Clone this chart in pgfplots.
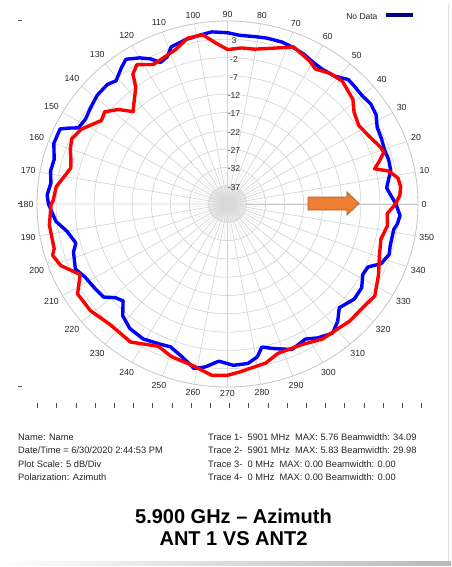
\documentclass[border=0pt]{standalone}
\usepackage{pgfplots}
\pgfplotsset{compat=1.18}
\usepgfplotslibrary{polar}
\usepackage{pgfplotstable}
\usepackage{fontspec}
\setmainfont{Liberation Sans}

\definecolor{arrowfill}{HTML}{ED7D31}
\definecolor{arrowedge}{HTML}{B0622C}
\definecolor{nodata}{HTML}{000080}

% trace 1 (blue): angle in degrees, level in dB
\pgfplotstableread{
ang db
0 2.2
3 1.0
6 0.0
9 0.8
12 1.8
16 2.0
20 1.8
24 2.2
28 2.5
32 4.0
36 4.5
40 4.1
44 4.3
47 4.5
51 2.9
56 2.4
60 2.8
64 3.6
68 4.1
72 4.5
77 4.5
81 4.3
86 4.2
90 4.8
95 5.2
99 4.7
104 4.2
109 3.4
111.5 1.2
114.5 0.5
117 2.5
120 4.1
124 5.7
127 4.4
131 2.6
134 3.4
139 3.3
144 2.5
148 1.9
152 2.3
153.5 4.5
155 6.5
160 6.5
165 5.1
169 5.3
173 4.7
177 5.4
180 5.0
186 3.3
190 0.8
195 -0.8
198 0.5
204 1.7
208 0.4
213 -0.2
218 -0.7
221 -3.0
224 -3.9
228 -0.9
233 0.6
239 1.0
245 0.2
249 -0.2
254 1.4
259 3.8
262.5 2.9
267 1.0
272 2.1
277 1.9
280.6 0.5
283 -1.9
287 -0.7
293 1.2
299 0.2
303 1.6
308 2.8
312 1.2
316 -1.2
322 0.2
327 0.0
331.5 -1.6
335 -1.3
338 1.5
342 2.6
345 2.2
351 2.2
353 2.9
356 3.4
360 2.2
}\traceone

% trace 2 (red)
\pgfplotstableread{
ang db
0 2.1
3 3.3
6 3.7
9 3.3
12 1.3
14 -2.2
16.3 -0.5
19 1.4
21 1.1
27 -0.6
32 -1.4
37 -0.4
41 1.6
48 3.1
53 2.7
58 1.5
61 2.6
68 4.3
74 2.3
80.5 0.9
85 0.8
90 0.2
94 2.1
98 4.7
103 4.5
108 2.3
117 0.8
122 2.9
125 1.3
127 -2.0
134.5 -6.6
138 -3.4
142 -1.1
145.4 -1.8
152 1.5
156.4 2.6
160 1.9
163 1.0
166.5 0.3
169 1.1
174 3.2
179 3.8
180 4.3
187 5.1
195 5.1
197 6.0
201 4.9
206.5 1.2
212 4.4
219 4.3
227 3.1
236 3.5
245 0.9
250.5 2.2
258 3.0
265 5.0
270 4.8
274 4.0
283 2.6
288 0.9
297 1.1
304 2.5
310 2.7
315 3.3
321 3.4
327 4.1
334 2.1
340.5 0.3
346.5 -0.6
352 0.4
356.4 0.0
360 2.1
}\tracetwo

\begin{document}
\begin{tikzpicture}
\useasboundingbox (0,0) rectangle (451pt,-567pt);
\fill[white] (0,0) rectangle (451pt,-567pt);
\shade[left color=white, right color=gray!55] (0pt,-561pt) rectangle (451pt,-565pt);
\draw[gray!25, line width=0.8pt] (448pt,-4pt) -- (448pt,-561pt);

\begin{polaraxis}[
  at={(227.5pt,-204pt)}, anchor=center,
  scale only axis, width=381pt, height=366pt,
  xmin=0, xmax=360, ymin=0, ymax=50,
  xtick={0,10,...,350},
  xticklabel={\pgfmathprintnumber[assume math mode=true]{\tick}},
  xticklabel style={font=\fontsize{8.8}{10}\selectfont, text=black!85},
  ytick={5,10,...,45}, yticklabels={},
  grid=major,
  major grid style={gray!35, line width=0.6pt},
  axis line style={gray!45, line width=0.8pt},
  major tick length=0pt,
]
\pgfplotsinvokeforeach{0,3,...,357}{
  \draw[gray!30, line width=0.4pt] (axis cs:#1,0) -- (axis cs:#1,5);
}
\pgfplotsinvokeforeach{5,15,...,355}{
  \draw[gray!22, line width=0.4pt] (axis cs:#1,5) -- (axis cs:#1,10);
}
\addplot[blue, line width=3.4pt, line join=round, no markers]
  table[x=ang, y expr=\thisrow{db}+42] {\traceone};
\addplot[red, line width=3.4pt, line join=round, no markers]
  table[x=ang, y expr=\thisrow{db}+42] {\tracetwo};
\begin{scope}[every node/.style={font=\fontsize{8.6}{10}\selectfont, text=black!85, xshift=6.5pt, yshift=-1.5pt}]
\node at (axis cs:90,45) {3};
\node at (axis cs:90,40) {-2};
\node at (axis cs:90,35) {-7};
\node at (axis cs:90,30) {-12};
\node at (axis cs:90,25) {-17};
\node at (axis cs:90,20) {-22};
\node at (axis cs:90,15) {-27};
\node at (axis cs:90,10) {-32};
\node at (axis cs:90,5) {-37};
\end{scope}
\end{polaraxis}

% direction arrow
\draw[fill=arrowfill, draw=arrowedge, line width=0.8pt]
  (308pt,-197pt) -- (347pt,-197pt) -- (347pt,-192pt) -- (359pt,-203.5pt)
  -- (347pt,-215pt) -- (347pt,-210pt) -- (308pt,-210pt) -- cycle;

% legend
\node[anchor=base east, font=\fontsize{8.5}{10}\selectfont, text=black!85] at (381pt,-20pt) {No Data};
\draw[nodata, line width=4pt] (386pt,-15pt) -- (413pt,-15pt);

% stray axis marks
\draw[black!70, line width=0.7pt] (18pt,-20pt) -- (22pt,-20pt);
\draw[black!70, line width=0.7pt] (18pt,-203pt) -- (22pt,-203pt);
\draw[black!70, line width=0.7pt] (18pt,-386pt) -- (22pt,-386pt);
\foreach \i in {0,...,20}
  \draw[black!70, line width=0.7pt] ({37.5pt+\i*19.2pt},-403pt) -- ++(0,-4.5pt);

% info block
\begin{scope}[every node/.style={anchor=base west, font=\fontsize{9.3}{11}\selectfont, text=black!85, inner sep=0pt}]
\node at (18pt,-440pt) {Name: Name};
\node at (18pt,-453.5pt) {Date/Time = 6/30/2020 2:44:53 PM};
\node at (18pt,-467pt) {Plot Scale: 5 dB/Div};
\node at (18pt,-480pt) {Polarization: Azimuth};
\node at (208pt,-440pt) {Trace 1-\ \ 5901 MHz\ \ MAX: 5.76 Beamwidth: 34.09};
\node at (208pt,-453.5pt) {Trace 2-\ \ 5901 MHz\ \ MAX: 5.83 Beamwidth: 29.98};
\node at (208pt,-467pt) {Trace 3-\ \ 0 MHz\ \ MAX: 0.00 Beamwidth: 0.00};
\node at (208pt,-480pt) {Trace 4-\ \ 0 MHz\ \ MAX: 0.00 Beamwidth: 0.00};
\end{scope}

% title
\node[anchor=base, font=\bfseries\fontsize{20}{22}\selectfont, inner sep=0pt] at (233.5pt,-523.3pt) {5.900 GHz – Azimuth};
\node[anchor=base, font=\bfseries\fontsize{20}{22}\selectfont, inner sep=0pt] at (233.5pt,-545pt) {ANT 1 VS ANT2};
\end{tikzpicture}
\end{document}
